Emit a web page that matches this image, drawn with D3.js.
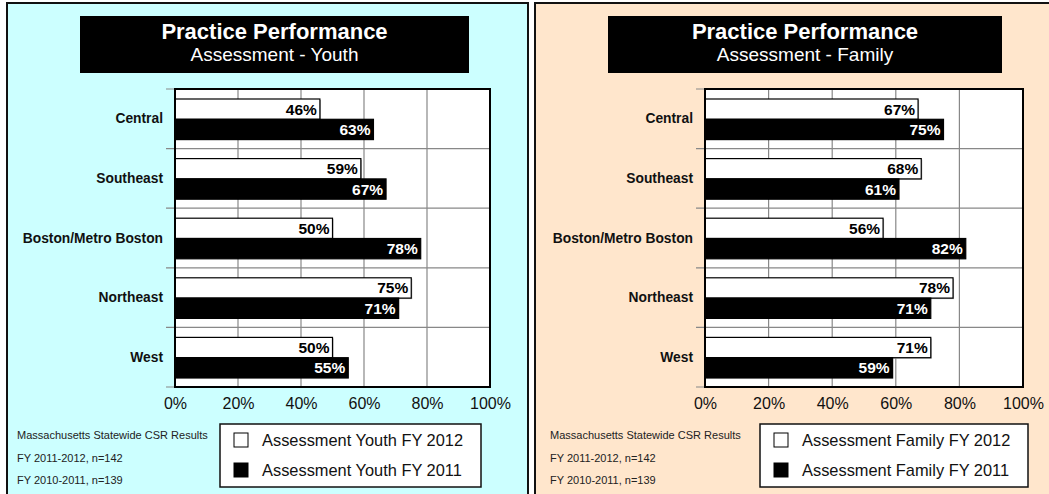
<!DOCTYPE html>
<html>
<head>
<meta charset="utf-8">
<script src="https://cdn.jsdelivr.net/npm/d3@7"></script>
<style>
  body { margin: 0; background: #fff; }
  svg { display: block; font-family: "Liberation Sans", Arial, sans-serif; }
</style>
</head>
<body>
<div id="chart"></div>
<script>
// ---- data ----
var categories = ["Central", "Southeast", "Boston/Metro Boston", "Northeast", "West"];
var youth2012 = [46, 59, 50, 75, 50];
var youth2011 = [63, 67, 78, 71, 55];
var family2012 = [67, 68, 56, 78, 71];
var family2011 = [75, 61, 82, 71, 59];
var xTicks = [0, 20, 40, 60, 80, 100];
var footnotes = ["Massachusetts Statewide CSR Results", "FY 2011-2012, n=142", "FY 2010-2011, n=139"];
var titles = ["Practice Performance", "Practice Performance"];
var subtitles = ["Assessment - Youth", "Assessment - Family"];
var legendYouth = ["Assessment Youth FY 2012", "Assessment Youth FY 2011"];
var legendFamily = ["Assessment Family FY 2012", "Assessment Family FY 2011"];

var W = 1049, H = 494;

var svg = d3.select("#chart").append("svg")
    .attr("width", W)
    .attr("height", H);

const drawPanel = (p) => {

    // panel background
    svg.append("rect")
        .attr("x", p.x0 + 1).attr("y", 4)
        .attr("width", p.x1 - p.x0).attr("height", H)
        .attr("fill", "#999");
    svg.append("rect")
        .attr("x", p.x0).attr("y", 3)
        .attr("width", p.x1 - p.x0).attr("height", H)
        .attr("fill", p.bg)
        .attr("stroke", "#111")
        .attr("stroke-width", 2);

    // title box
    svg.append("rect")
        .attr("x", p.titleX0).attr("y", 16)
        .attr("width", p.titleX1 - p.titleX0).attr("height", 57)
        .attr("fill", "#000");
    var tc = (p.titleX0 + p.titleX1) / 2;
    svg.append("text")
        .attr("x", tc).attr("y", 39)
        .attr("text-anchor", "middle")
        .attr("fill", "#fff")
        .attr("font-weight", "bold")
        .attr("font-size", 22)
        .text(p.title);
    svg.append("text")
        .attr("x", tc).attr("y", 61)
        .attr("text-anchor", "middle")
        .attr("fill", "#fff")
        .attr("font-size", 19)
        .text(p.subtitle);

    var top = 89, bottom = 387;

    var xScale = d3.scaleLinear()
        .domain([0, 100])
        .range([p.left, p.right]);

    var yScale = d3.scaleBand()
        .domain(categories)
        .range([top, bottom]);

    var inner = d3.scaleBand()
        .domain([0, 1])
        .range([10, yScale.bandwidth() - 9]);

    var g = svg.append("g");

    g.append("rect")
        .attr("x", p.left).attr("y", top)
        .attr("width", p.right - p.left).attr("height", bottom - top)
        .attr("fill", "#fff");

    // vertical grid
    g.selectAll(".vgrid")
        .data(xTicks.slice(1, -1))
        .enter().append("line")
        .attr("x1", (d) => xScale(d)).attr("x2", (d) => xScale(d))
        .attr("y1", top).attr("y2", bottom)
        .attr("stroke", "#888")
        .attr("stroke-width", 1.2);

    // category separators (extend left as ticks)
    var seps = categories.map((c) => yScale(c)).concat([bottom]);
    g.selectAll(".hgrid")
        .data(seps)
        .enter().append("line")
        .attr("x1", p.left - 9).attr("x2", p.right)
        .attr("y1", (d) => d).attr("y2", (d) => d)
        .attr("stroke", "#888")
        .attr("stroke-width", 1.2);

    // bars
    var series = [p.s2012, p.s2011];
    series.forEach((vals, si) => {
        var rows = categories.map((c, i) => ({ cat: c, v: vals[i] }));
        var y0 = (d) => yScale(d.cat) + inner(si);

        if (si === 0) {
            g.selectAll(".shadow" + si)
                .data(rows)
                .enter().append("rect")
                .attr("x", p.left + 1)
                .attr("y", (d) => y0(d) + 1)
                .attr("width", (d) => xScale(d.v) - p.left)
                .attr("height", inner.bandwidth())
                .attr("fill", "#aaa");
        }

        g.selectAll(".bar" + si)
            .data(rows)
            .enter().append("rect")
            .attr("x", p.left)
            .attr("y", y0)
            .attr("width", (d) => xScale(d.v) - p.left)
            .attr("height", inner.bandwidth())
            .attr("fill", si === 0 ? "#fff" : "#000")
            .attr("stroke", "#000")
            .attr("stroke-width", 1.2);

        g.selectAll(".lab" + si)
            .data(rows)
            .enter().append("text")
            .attr("x", (d) => xScale(d.v) - 3)
            .attr("y", (d) => y0(d) + inner.bandwidth() / 2 + 5.5)
            .attr("text-anchor", "end")
            .attr("font-weight", "bold")
            .attr("font-size", 15.5)
            .attr("fill", si === 0 ? "#000" : "#fff")
            .text((d) => d.v + "%");
    });

    // plot frame
    g.append("rect")
        .attr("x", p.left).attr("y", top)
        .attr("width", p.right - p.left).attr("height", bottom - top)
        .attr("fill", "none")
        .attr("stroke", "#000")
        .attr("stroke-width", 2);

    // category labels
    g.selectAll(".cat")
        .data(categories)
        .enter().append("text")
        .attr("x", p.left - 12)
        .attr("y", (d) => yScale(d) + yScale.bandwidth() / 2 + 4.5)
        .attr("text-anchor", "end")
        .attr("font-weight", "bold")
        .attr("font-size", 13.8)
        .attr("fill", "#111")
        .text((d) => d);

    // x axis labels
    var xAxis = d3.axisBottom(xScale)
        .tickValues(xTicks)
        .tickSize(0)
        .tickPadding(11)
        .tickFormat((d) => d + "%");
    var ax = g.append("g")
        .attr("transform", `translate(0, ${bottom})`)
        .call(xAxis);
    ax.select(".domain").remove();
    ax.selectAll("text")
        .attr("font-family", "Liberation Sans, Arial, sans-serif")
        .attr("font-size", 16)
        .attr("fill", "#111");

    // footnotes
    g.selectAll(".foot")
        .data(footnotes)
        .enter().append("text")
        .attr("x", p.footX)
        .attr("y", (d, i) => 439 + i * 22.5)
        .attr("font-size", 11)
        .attr("fill", "#222")
        .text((d) => d);

    // legend
    g.append("rect")
        .attr("x", p.legX0).attr("y", 424)
        .attr("width", p.legX1 - p.legX0).attr("height", 63)
        .attr("fill", "#fff")
        .attr("stroke", "#111")
        .attr("stroke-width", 1.5);
    p.legend.forEach((txt, i) => {
        var cy = 440 + i * 30;
        g.append("rect")
            .attr("x", p.legX0 + 14).attr("y", cy - 7)
            .attr("width", 14).attr("height", 14)
            .attr("fill", i === 0 ? "#fff" : "#000")
            .attr("stroke", "#000")
            .attr("stroke-width", 1);
        g.append("text")
            .attr("x", p.legX0 + 42).attr("y", cy + 5.5)
            .attr("font-size", 16.4)
            .attr("fill", "#111")
            .text(txt);
    });
};

drawPanel({
    x0: 7, x1: 528, bg: "#ccffff",
    titleX0: 80, titleX1: 469,
    title: titles[0], subtitle: subtitles[0],
    left: 175, right: 490,
    s2012: youth2012, s2011: youth2011,
    footX: 17, legX0: 220, legX1: 481,
    legend: legendYouth
});

drawPanel({
    x0: 535, x1: 1060, bg: "#ffe6cc",
    titleX0: 608, titleX1: 1002,
    title: titles[1], subtitle: subtitles[1],
    left: 705, right: 1023,
    s2012: family2012, s2011: family2011,
    footX: 550, legX0: 760, legX1: 1028,
    legend: legendFamily
});
</script>
</body>
</html>
